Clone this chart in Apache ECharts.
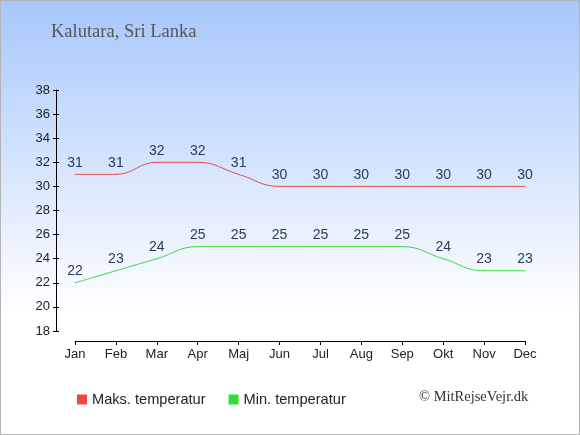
<!DOCTYPE html>
<html><head><meta charset="utf-8">
<script src="https://cdn.jsdelivr.net/npm/echarts@6/dist/echarts.min.js"></script>
<style>html,body{margin:0;padding:0;}#c{width:578px;height:433px;border:1px solid #b4b4b4;}</style>
</head><body><div id="c"></div>
<script>
const months = ['Jan','Feb','Mar','Apr','Maj','Jun','Jul','Aug','Sep','Okt','Nov','Dec'];
const maxTemp = [31,31,32,32,31,30,30,30,30,30,30,30];
const minTemp = [22,23,24,25,25,25,25,25,25,24,23,23];
const yTicks = {min:18, max:38, interval:2};

const chart = echarts.init(document.getElementById('c'));
const lbl = {show:true, position:'top', distance:4, color:'#2a3b5a', fontSize:14, fontFamily:'Liberation Sans, Arial, sans-serif'};
chart.setOption({
  backgroundColor: {type:'linear', x:0, y:0, x2:0, y2:1, colorStops:[{offset:0,color:'#a7c7fc'},{offset:0.72,color:'#ffffff'},{offset:1,color:'#ffffff'}]},
  animation:false,
  title:{text:'Kalutara, Sri Lanka', left:45, top:17, textStyle:{fontFamily:'Liberation Serif, DejaVu Serif, serif', fontWeight:'normal', fontSize:18.5, color:'#555'}},
  grid:{left:74, right:54, top:89, bottom:103},
  xAxis:{type:'category', data:months, boundaryGap:false, offset:10,
    axisLine:{lineStyle:{color:'#000'}}, axisTick:{alignWithLabel:true, length:4, inside:false, lineStyle:{color:'#000'}},
    axisLabel:{color:'#222', fontSize:13, fontFamily:'Liberation Sans, Arial, sans-serif', margin:7}},
  yAxis:[
    {type:'value', min:yTicks.min, max:yTicks.max, interval:yTicks.interval, offset:19,
     axisLine:{show:true, lineStyle:{color:'#000'}}, axisTick:{show:true, length:3, lineStyle:{color:'#000'}},
     splitLine:{show:false}, axisLabel:{color:'#222', fontSize:13, fontFamily:'Liberation Sans, Arial, sans-serif', margin:6}},
    {type:'value', position:'left', min:yTicks.min, max:yTicks.max, interval:yTicks.interval, offset:19,
     axisLine:{show:false}, axisTick:{show:true, inside:true, length:3, lineStyle:{color:'#000'}},
     splitLine:{show:false}, axisLabel:{show:false}}
  ],
  legend:{show:true, left:71, top:386, itemWidth:10, itemHeight:10, itemGap:23, icon:'rect',
    textStyle:{fontSize:14.6, color:'#222', fontFamily:'Liberation Sans, Arial, sans-serif'},
    data:['Maks. temperatur','Min. temperatur']},
  graphic:[{type:'text', left:418, top:389, style:{text:'© MitRejseVejr.dk', fontSize:14.5, fill:'#333', fontFamily:'Liberation Serif, DejaVu Serif, serif'}}],
  series:[
    {name:'Maks. temperatur', type:'line', data:maxTemp, smooth:0.45, symbol:'circle', symbolSize:1, showSymbol:true, color:'#f04848', lineStyle:{width:1, color:'#e84a4a'}, label:lbl},
    {name:'Min. temperatur', type:'line', data:minTemp, smooth:0.45, symbol:'circle', symbolSize:1, showSymbol:true, color:'#33dd33', lineStyle:{width:1, color:'#3ddc3d'}, label:lbl}
  ]
});
</script></body></html>
